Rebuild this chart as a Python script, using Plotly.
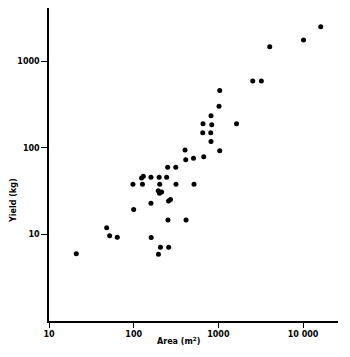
import plotly.graph_objects as go

# Area (m2) and Yield (kg)
area = [21, 48, 52, 64, 98, 100, 124, 130, 160, 200, 245, 127, 203, 316, 516,
        252, 314, 195, 214, 202, 160, 258, 272, 254, 415, 161, 207, 259, 196,
        412, 509, 672, 404, 1038, 819, 654, 813, 659, 835, 1639, 819, 1018,
        1038, 2546, 3217, 4043, 10134, 16180]
yield_kg = [6.0, 12, 9.7, 9.3, 38, 19.5, 45, 47, 46, 46, 46, 38, 38, 38, 38,
            60, 60, 32, 31, 30, 23, 24.4, 25.4, 14.7, 14.7, 9.2, 7.1, 7.1, 5.9,
            73, 76, 79, 95, 93, 119, 150, 150, 190, 186, 190, 236, 304,
            462, 595, 595, 1483, 1773, 2525]

x_tickvals = [10, 100, 1000, 10000]
x_ticktext = ["10", "100", "1000", "10 000"]
y_tickvals = [10, 100, 1000]
y_ticktext = ["10", "100", "1000"]

font_family = "DejaVu Sans"
tfont = dict(family=font_family, size=8, color="black", weight="bold")

fig = go.Figure(go.Scatter(
    x=area, y=yield_kg, mode="markers",
    marker=dict(color="black", size=5, line=dict(width=0)),
))

fig.update_layout(
    width=350, height=357,
    margin=dict(l=49, r=12, t=8, b=36),
    paper_bgcolor="white", plot_bgcolor="white",
    showlegend=False,
    font=tfont,
)
fig.update_xaxes(
    type="log", range=[1, 4.413],
    tickvals=x_tickvals, ticktext=x_ticktext,
    ticks="outside", ticklen=5, tickwidth=1.2, tickcolor="black",
    showline=True, linecolor="black", linewidth=1.6,
    showgrid=False, zeroline=False,
    tickfont=tfont,
)
fig.update_yaxes(
    type="log", range=[0, 3.618],
    tickvals=y_tickvals, ticktext=y_ticktext,
    ticks="outside", ticklen=6, tickwidth=1.2, tickcolor="black",
    showline=True, linecolor="black", linewidth=1.6,
    showgrid=False, zeroline=False,
    tickfont=tfont,
)
fig.add_annotation(
    text="Area (m<sup>2</sup>)", xref="paper", yref="paper",
    x=(178 - 49) / 289, y=-(341 - 321) / 313, xanchor="center", yanchor="middle",
    showarrow=False, font=tfont,
)
fig.add_annotation(
    text="Yield (kg)", xref="paper", yref="paper",
    x=-(49 - 13) / 289, y=(321 - 201) / 313, xanchor="center", yanchor="middle",
    textangle=-90, showarrow=False, font=tfont,
)

fig.write_html("out.html")
